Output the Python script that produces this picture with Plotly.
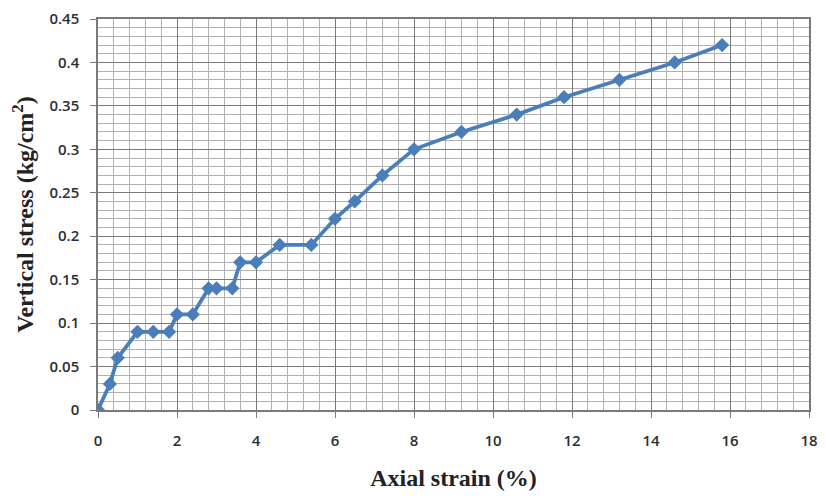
import plotly.graph_objects as go

strain = [0, 0.3, 0.5, 1.0, 1.4, 1.8, 2.0, 2.4, 2.8, 3.0, 3.4, 3.6, 4.0, 4.6, 5.4,
          6.0, 6.5, 7.2, 8.0, 9.2, 10.6, 11.8, 13.2, 14.6, 15.8]
stress = [0, 0.03, 0.06, 0.09, 0.09, 0.09, 0.11, 0.11, 0.14, 0.14, 0.14, 0.17, 0.17, 0.19, 0.19,
          0.22, 0.24, 0.27, 0.30, 0.32, 0.34, 0.36, 0.38, 0.40, 0.42]

x_ticks = [0, 2, 4, 6, 8, 10, 12, 14, 16, 18]
y_ticks = [0, 0.05, 0.1, 0.15, 0.2, 0.25, 0.3, 0.35, 0.4, 0.45]
y_labels = ["0", "0.05", "0.1", "0.15", "0.2", "0.25", "0.3", "0.35", "0.4", "0.45"]

fig = go.Figure()
fig.add_trace(go.Scatter(
    x=strain, y=stress, mode="lines+markers",
    line=dict(color="#4A7EBB", width=3.8),
    marker=dict(symbol="diamond", size=11, color="#4A7EBB"),
    showlegend=False,
))

tick_font = dict(family="Open Sans, Liberation Sans, sans-serif", size=15, color="#2e2e2e", weight=600)
serif = "Liberation Serif, Times New Roman, serif"

# page body has an 8px margin, so the figure is sized to fit inside the window
fig.update_layout(
    width=818, height=490,
    margin=dict(l=90, r=17, t=11, b=88),
    paper_bgcolor="white", plot_bgcolor="white",
    xaxis=dict(
        range=[0, 18], tickvals=x_ticks, ticktext=[str(v) for v in x_ticks],
        showgrid=True, gridcolor="#7a7a7a", gridwidth=1.3,
        minor=dict(dtick=0.4, showgrid=True, gridcolor="#b0b0b0", gridwidth=1),
        showline=True, linecolor="#7a7a7a", linewidth=1.5, mirror=True,
        ticks="outside", ticklen=6, tickcolor="#7a7a7a",
        tickfont=tick_font, zeroline=False, automargin=False,
        ticklabelstandoff=10,
        title=dict(text="<b>Axial strain (%)</b>", font=dict(family=serif, size=24, color="#222222"), standoff=20),
    ),
    yaxis=dict(
        range=[0, 0.45], tickvals=y_ticks, ticktext=y_labels,
        showgrid=True, gridcolor="#7a7a7a", gridwidth=1.3,
        minor=dict(dtick=0.01, showgrid=True, gridcolor="#b0b0b0", gridwidth=1),
        showline=True, linecolor="#7a7a7a", linewidth=1.5, mirror=True,
        ticks="outside", ticklen=6, tickcolor="#7a7a7a",
        tickfont=tick_font, zeroline=False, automargin=False,
        ticklabelstandoff=8,
        title=dict(text="<b>Vertical stress (kg/cm<sup>2</sup>)</b>", font=dict(family=serif, size=24, color="#222222"), standoff=14),
    ),
)

fig.write_html("out.html")
